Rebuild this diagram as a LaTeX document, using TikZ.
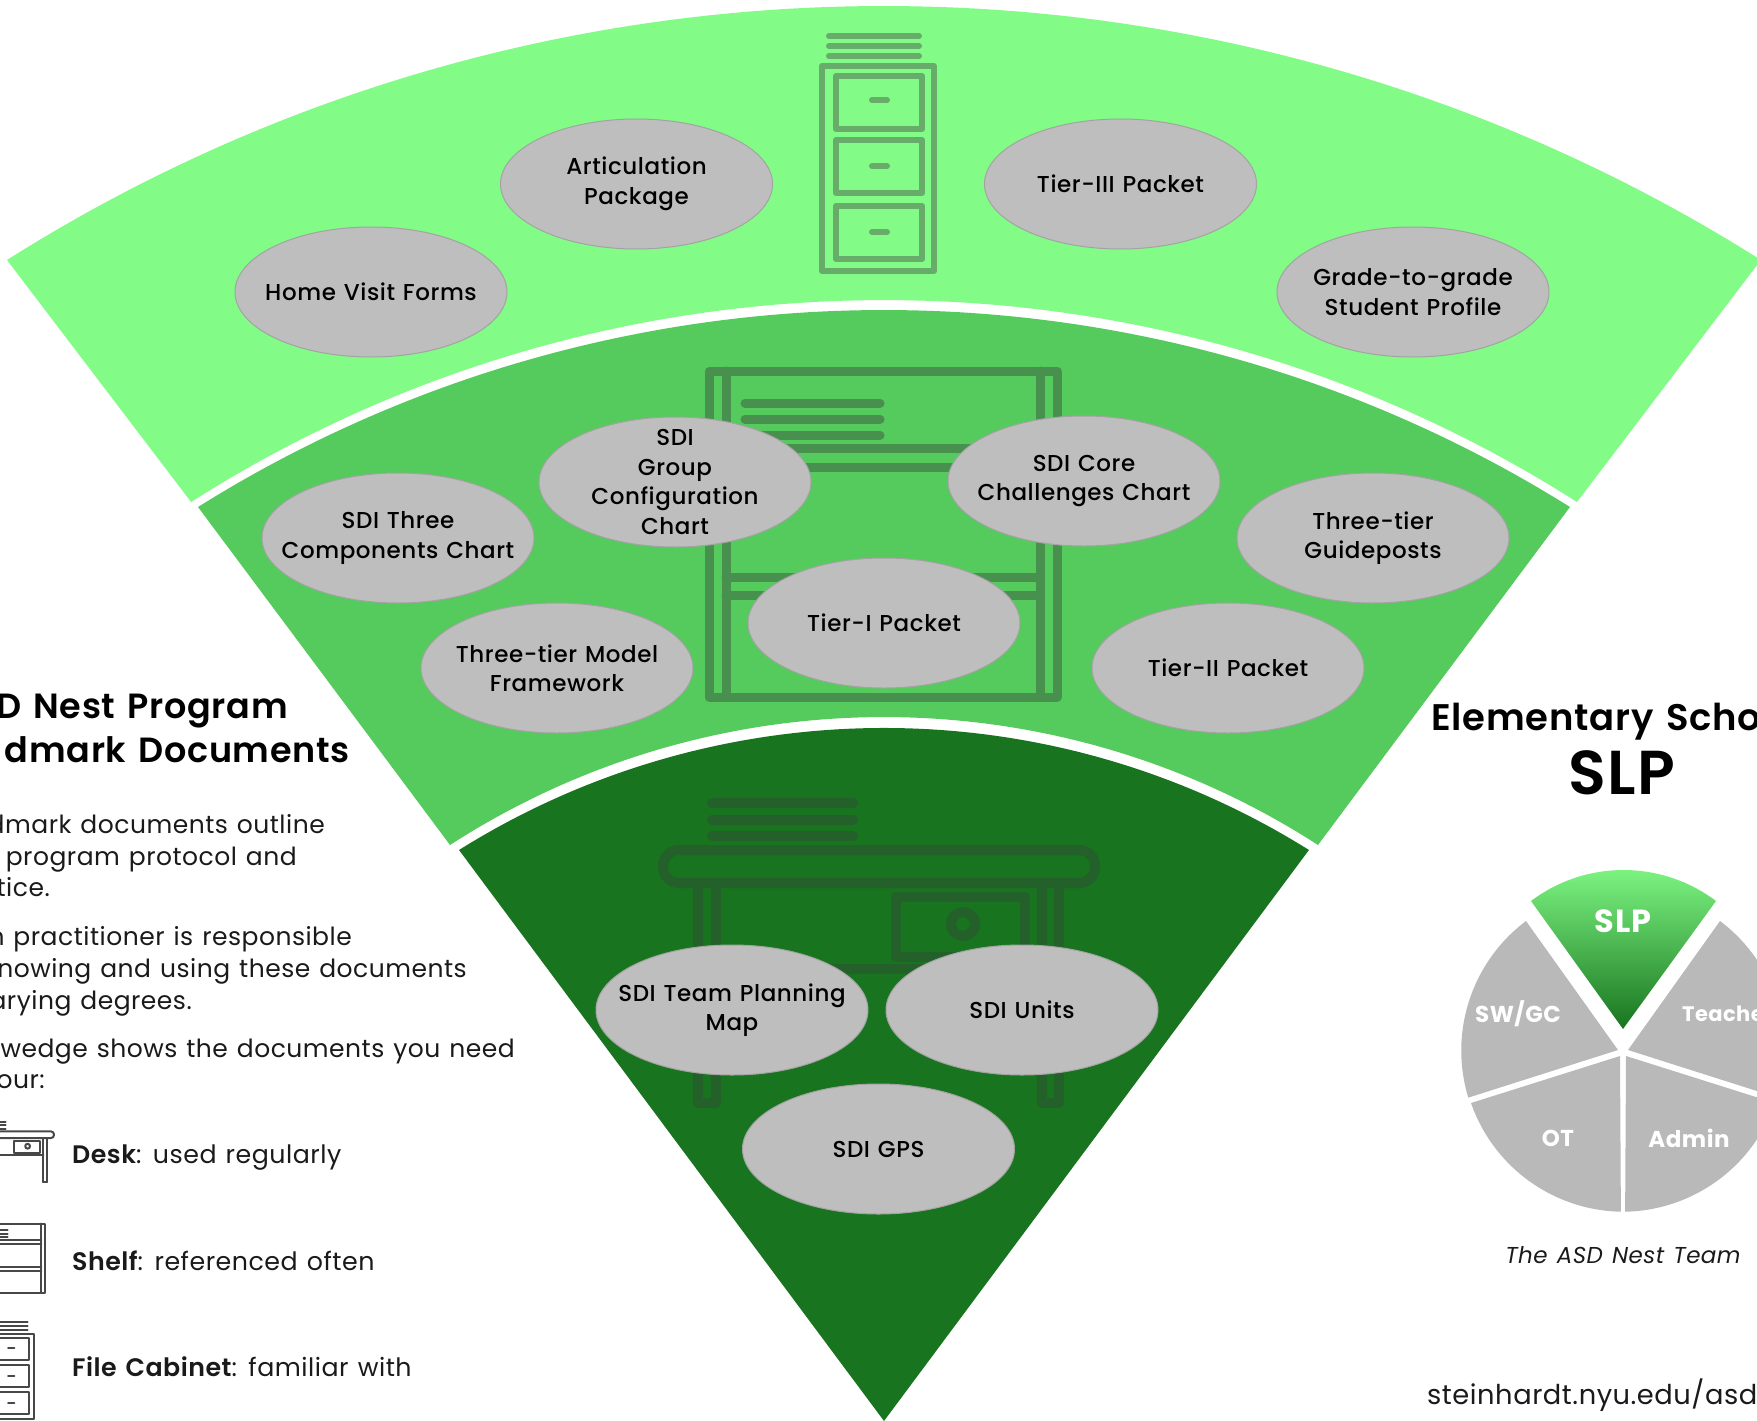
\documentclass[tikz,border=0pt]{standalone}
\usepackage{fontspec}
\setmainfont{Poppins}[LetterSpace=2, WordSpace=1.25]
\newfontfamily\LabelFont{Poppins Medium}[LetterSpace=2.5, WordSpace=1.2]
\newfontfamily\TitleFont{Poppins SemiBold}[LetterSpace=2, WordSpace=1.35]
\usetikzlibrary{shapes.geometric, positioning}
\definecolor{LeafLight}{HTML}{82FB87}
\definecolor{LeafMid}{HTML}{54CB5C}
\definecolor{LeafDark}{HTML}{18741E}
\definecolor{IconLight}{HTML}{68AC6B}
\definecolor{IconMid}{HTML}{48904E}
\definecolor{IconDark}{HTML}{24602A}
\definecolor{DocGray}{HTML}{BEBEBE}
\definecolor{DocEdge}{HTML}{A3A3A3}
\definecolor{TeamGray}{HTML}{B9B9B9}
\definecolor{InkDark}{HTML}{1A1A1A}
\tikzset{
  docnode/.style={ellipse, draw=DocEdge, fill=DocGray, line width=1pt, minimum width=272pt, minimum height=130pt, inner xsep=-50pt, inner ysep=-30pt, align=center, text=black, font=\LabelFont\fontsize{23}{29.5}\selectfont},
  titletext/.style={anchor=base east, inner sep=0pt, text=black, font=\TitleFont\fontsize{35}{40}\selectfont},
  bodytext/.style={anchor=base east, inner sep=0pt, text=InkDark, font=\fontsize{25}{30}\selectfont},
  legendtext/.style={anchor=base west, inner sep=0pt, text=InkDark, font=\fontsize{25.3}{30}\selectfont},
  teamtext/.style={inner sep=0pt, text=white, font=\bfseries\fontsize{23}{28}\selectfont},
  iconline/.style={line cap=round, line join=round},
  icontop/.style={rounded corners=16pt}
}
% icons, drawn at the size of the big ones
\newcommand{\CabinetIcon}{
  \foreach \y in {36, 46, 56} {
    \draw[iconline] (829, \y) -- (919, \y);
  }
  \draw[iconline] (822, 66) rectangle (934, 271);
  \foreach \y/\b in {76/129, 140/193, 206/259} {
    \draw[iconline] (836, \y) rectangle (922, \b);
  }
  \foreach \y in {100, 166, 232} {
    \draw[iconline] (872, \y) -- (887, \y);
  }
}
\newcommand{\ShelfIcon}{
  \foreach \y in {403, 419, 435} {
    \draw[iconline] (745, \y) -- (880, \y);
  }
  \draw[iconline] (709, 371) rectangle (1057, 697);
  \draw[iconline] (726, 371) -- (726, 697);
  \draw[iconline] (1040, 371) -- (1040, 697);
  \foreach \y in {448, 467, 577, 595} {
    \draw[iconline] (726, \y) -- (1040, \y);
  }
}
\newcommand{\DeskIcon}{
  \foreach \y in {803, 820, 836} {
    \draw[iconline] (712, \y) -- (853, \y);
  }
  \draw[iconline, icontop] (663, 850) rectangle (1095, 883);
  \foreach \x in {698, 716, 1042, 1059} {
    \draw[iconline] (\x, 883) -- (\x, 1103);
  }
  \draw[iconline] (698, 1103) -- (716, 1103);
  \draw[iconline] (1042, 1103) -- (1059, 1103);
  \draw[iconline] (896, 897) rectangle (1025, 957);
  \draw[iconline] (963, 924) circle (12pt);
  \draw[iconline] (716, 969) -- (1042, 969);
}
\begin{document}
\begin{tikzpicture}[x=1pt, y=-1pt]
    \useasboundingbox (0, 0) rectangle (1757, 1421);

    % 1. The three wedges
    \fill[LeafLight] (7, 260) arc[start angle={90+asin(877/1641)}, end angle={90-asin(877/1641)}, radius=1641pt]
        -- (1577, 502) arc[start angle={90-asin(693/1290)}, end angle={90+asin(693/1290)}, radius=1290pt] -- cycle;
    \fill[LeafMid] (198, 507) arc[start angle={90+asin(686/1293)}, end angle={90-asin(686/1293)}, radius=1293pt]
        -- (1318, 845) arc[start angle={90-asin(434/800)}, end angle={90+asin(434/800)}, radius=800pt] -- cycle;
    \fill[LeafDark] (459, 850) arc[start angle={90+asin(425/801)}, end angle={90-asin(425/801)}, radius=801pt]
        -- (884, 1421) -- cycle;

    % 2. Big icons inside the wedges
    \begin{scope}[iconline/.append style={draw=IconLight, line width=6pt}]
        \CabinetIcon
    \end{scope}
    \begin{scope}[iconline/.append style={draw=IconMid, line width=9pt}]
        \ShelfIcon
    \end{scope}
    \begin{scope}[iconline/.append style={draw=IconDark, line width=10pt}]
        \DeskIcon
    \end{scope}

    % 3. Documents
    \node[docnode] (articulation) at (636.5, 184) {Articulation\\Package};
    \node[docnode] (tierthree) at (1120.5, 184) {Tier-III Packet};
    \node[docnode] (homevisit) at (371, 292) {Home Visit Forms};
    \node[docnode] (gradetograde) at (1413, 292) {Grade-to-grade\\Student Profile};
    \node[docnode] (sdigroup) at (675, 482) {SDI\\Group\\Configuration\\Chart};
    \node[docnode] (sdicore) at (1084, 481) {SDI Core\\Challenges Chart};
    \node[docnode] (sdithree) at (398, 538) {SDI Three\\Components Chart};
    \node[docnode] (guideposts) at (1373, 538) {Three-tier\\Guideposts};
    \node[docnode] (tierone) at (884, 623) {Tier-I Packet};
    \node[docnode] (framework) at (557, 668) {Three-tier Model\\Framework};
    \node[docnode] (tiertwo) at (1228, 668) {Tier-II Packet};
    \node[docnode] (teammap) at (732, 1010) {SDI Team Planning\\Map};
    \node[docnode] (sdiunits) at (1022, 1010) {SDI Units};
    \node[docnode] (sdigps) at (878.5, 1149) {SDI GPS};

    % 4. Left column
    \node[titletext] (titleone) at (288, 718) {D Nest Program};
    \node[titletext] (titletwo) at (350, 762) {dmark Documents};
    \node[bodytext] (bodya) at (325, 833) {dmark documents outline};
    \node[bodytext] (bodyb) at (297, 865) {program protocol and};
    \node[bodytext] (bodyc) at (50, 896) {tice.};
    \node[bodytext] (bodyd) at (352, 945) {n practitioner is responsible};
    \node[bodytext] (bodye) at (467, 977) {nowing and using these documents};
    \node[bodytext] (bodyf) at (192, 1009) {arying degrees.};
    \node[bodytext] (bodyg) at (515, 1057) {wedge shows the documents you need};
    \node[bodytext] (bodyh) at (45, 1088) {our:};

    % Legend
    \begin{scope}[shift={(-165, 961.4)}, scale=0.2, iconline/.append style={draw=InkDark!80, line width=2pt}, icontop/.style={rounded corners=3pt}]
        \DeskIcon
    \end{scope}
    \begin{scope}[shift={(-179, 1145)}, scale=0.212, iconline/.append style={draw=InkDark!80, line width=2pt}]
        \ShelfIcon
    \end{scope}
    \begin{scope}[shift={(-352, 1307)}, scale=0.413, iconline/.append style={draw=InkDark!80, line width=2pt}]
        \CabinetIcon
    \end{scope}
    \node[legendtext] (legenddesk) at (72, 1163) {{\TitleFont Desk}: used regularly};
    \node[legendtext] (legendshelf) at (72, 1270) {{\TitleFont Shelf}: referenced often};
    \node[legendtext] (legendcabinet) at (72, 1376) {{\TitleFont File Cabinet}: familiar with};

    % 5. Right column
    \node[titletext, anchor=base west, font=\TitleFont\fontsize{37}{42}\selectfont] (school) at (1431, 730) {Elementary Scho};
    \node[titletext, anchor=base, font=\TitleFont\fontsize{62}{66}\selectfont] (role) at (1622, 794) {SLP};

    % Team pie
    \fill[TeamGray] (1526, 921) arc[start angle=126.9, end angle=196.9, radius=162pt] -- (1618, 1050) -- cycle;
    \fill[TeamGray] (1720, 921) arc[start angle=53.1, end angle=-16.9, radius=162pt] -- (1628, 1050) -- cycle;
    \fill[TeamGray] (1471, 1103) arc[start angle=199.2, end angle=268.9, radius=162pt] -- (1620, 1056) -- cycle;
    \fill[TeamGray] (1775, 1103) arc[start angle=340.8, end angle=271.1, radius=162pt] -- (1626, 1056) -- cycle;
    \shade[top color=LeafLight, middle color=LeafMid, bottom color=LeafDark]
        (1531, 901) arc[start angle={90+asin(92.5/153.5)}, end angle={90-asin(92.5/153.5)}, radius=153.5pt] -- (1623, 1029) -- cycle;

    \node[teamtext, font=\bfseries\fontsize{32}{36}\selectfont] (slp) at (1623, 921) {SLP};
    \node[teamtext] (swgc) at (1518, 1014) {SW/GC};
    \node[teamtext, anchor=west, font=\bfseries\fontsize{21}{26}\selectfont] (teacher) at (1682, 1014) {Teache};
    \node[teamtext] (ot) at (1558, 1138) {OT};
    \node[teamtext] (admin) at (1689, 1138) {Admin};

    \node[anchor=base, inner sep=0pt, text=InkDark, font=\itshape\fontsize{23}{28}\selectfont] (caption) at (1623, 1263) {The ASD Nest Team};
    \node[anchor=base west, inner sep=0pt, text=InkDark, font=\fontsize{27.3}{32}\selectfont] (website) at (1427, 1404) {steinhardt.nyu.edu/asd};
\end{tikzpicture}
\end{document}
